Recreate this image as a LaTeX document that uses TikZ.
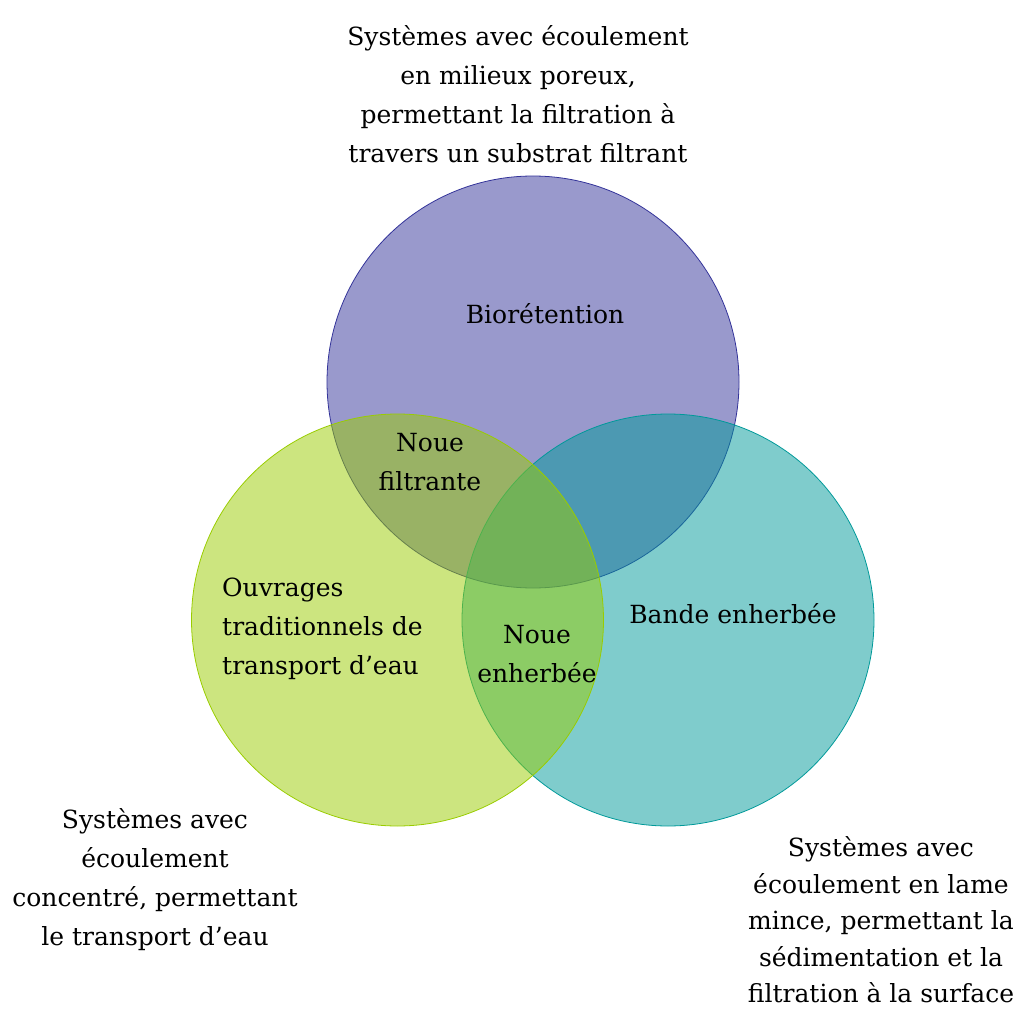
\documentclass[tikz,border=0pt]{standalone}
\usepackage{fontspec}
\setmainfont{DejaVu Serif}
\definecolor{bio}{RGB}{51,51,153}
\definecolor{bande}{RGB}{0,153,153}
\definecolor{ouvrage}{RGB}{153,204,0}
\tikzstyle{venn} = [circle, minimum size=412pt, inner sep=0pt, fill opacity=0.5, line width=0.8pt]
\tikzstyle{vtext} = [align=center, inner sep=0pt, font=\fontsize{25}{39}\selectfont]
\tikzstyle{desc} = [align=center, inner sep=0pt, font=\fontsize{25}{39}\selectfont]

\begin{document}
\begin{tikzpicture}[x=1pt, y=-1pt]
\useasboundingbox (0,0) rectangle (1018,1014);

% Circles
\node (biocircle) [venn, draw=bio, fill=bio] at (533,382) {};
\node (bandecircle) [venn, draw=bande, fill=bande] at (668,620) {};
\node (ouvragecircle) [venn, draw=ouvrage, fill=ouvrage] at (397.5,620) {};

% Circle texts
\node (bio) [vtext] at (545,314) {Biorétention};
\node (bande) [vtext] at (733,614) {Bande enherbée};
\node (ouvrage) [vtext, align=left, anchor=west] at (222,629) {Ouvrages\\traditionnels de\\transport d’eau};
\node (filtrante) [vtext] at (430,462) {Noue\\filtrante};
\node (enherbee) [vtext] at (537,654) {Noue\\enherbée};

% Descriptions
\node (biodesc) [desc] at (518,94) {Systèmes avec écoulement\\en milieux poreux,\\permettant la filtration à\\travers un substrat filtrant};
\node (ouvragedesc) [desc] at (155,880) {Systèmes avec\\écoulement\\concentré, permettant\\le transport d’eau};
\node (bandedesc) [desc, font=\fontsize{25}{36.5}\selectfont] at (881,920) {Systèmes avec\\écoulement en lame\\mince, permettant la\\sédimentation et la\\filtration à la surface};

\end{tikzpicture}
\end{document}
